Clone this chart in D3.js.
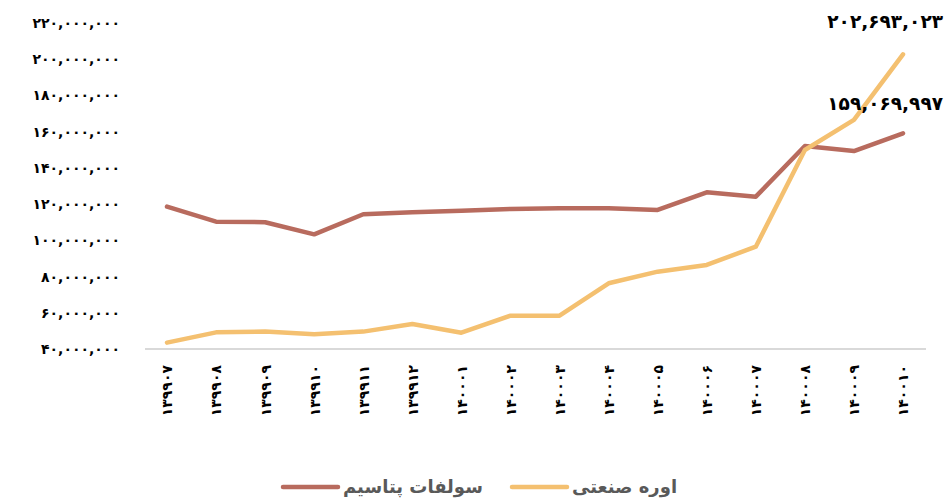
<!DOCTYPE html>
<html>
<head>
<meta charset="utf-8">
<script src="https://cdn.jsdelivr.net/npm/d3@7"></script>
<style>
  body { margin: 0; background: #fff; }
  text { font-family: "DejaVu Sans", sans-serif; }
</style>
</head>
<body>
<script>
// categories (year+month, shown in Persian digits)
var months = ["139907", "139908", "139909", "139910", "139911", "139912",
  "140001", "140002", "140003", "140004", "140005", "140006",
  "140007", "140008", "140009", "140010"];

// series values
var potash = [118600000, 110300000, 110000000, 103300000, 114400000, 115500000,
  116300000, 117300000, 117700000, 117700000, 116800000, 126500000,
  124100000, 152100000, 149300000, 159069997];
var urea = [43500000, 49200000, 49600000, 48100000, 49600000, 53800000,
  49000000, 58400000, 58400000, 76300000, 82700000, 86400000,
  96500000, 149900000, 166500000, 202693023];

var yTicks = [40000000, 60000000, 80000000, 100000000, 120000000, 140000000,
  160000000, 180000000, 200000000, 220000000];

var seriesNames = ["سولفات پتاسیم", "اوره صنعتی"];
var seriesColors = ["#b86b5e", "#f4c070"];

var W = 949, H = 500;
var svg = d3.select("body").append("svg")
  .attr("width", W)
  .attr("height", H)

var fa = "۰۱۲۳۴۵۶۷۸۹";
function toFa(s) {
  return String(s).replace(/[0-9]/g, function(c) { return fa[+c] });
}
var fmt = d3.format(",");

var x = d3.scalePoint().domain(months).range([167, 903]);
var y = d3.scaleLinear().domain([40000000, 220000000]).range([349, 23]);

// y axis labels only, no line
var yAxis = svg.append("g")
  .attr("transform", "translate(120,0)")
  .call(d3.axisLeft(y).tickValues(yTicks).tickSize(0).tickPadding(0)
    .tickFormat(function(d) { return toFa(fmt(d)) }))
yAxis.select(".domain").remove();
yAxis.selectAll("text")
  .style("font-family", "DejaVu Sans")
  .style("font-size", "14px")
  .style("font-weight", "bold")
  .attr("fill", "#000")

// x axis line + rotated labels
var xAxis = svg.append("g")
  .attr("transform", "translate(0,349)")
  .call(d3.axisBottom(x).tickSize(0).tickFormat(function(d) { return toFa(d) }))
xAxis.select(".domain")
  .attr("d", "M145,0H926")
  .attr("stroke", "#d9d9d9")
  .attr("stroke-width", 2)
xAxis.selectAll("text")
  .attr("transform", "rotate(-90)")
  .attr("x", -16)
  .attr("y", 0)
  .attr("dy", "0.35em")
  .style("text-anchor", "end")
  .style("font-family", "DejaVu Sans")
  .style("font-size", "14px")
  .style("font-weight", "bold")
  .attr("fill", "#000")

var line = d3.line()
  .x(function(d, i) { return x(months[i]) })
  .y(function(d) { return y(d) })

var allSeries = [potash, urea];
svg.append("g").selectAll("path")
  .data(allSeries)
  .enter().append("path")
    .attr("d", line)
    .attr("fill", "none")
    .attr("stroke", function(d, i) { return seriesColors[i] })
    .attr("stroke-width", 4.5)
    .attr("stroke-linejoin", "round")
    .attr("stroke-linecap", "round")

// last-point data labels
var last = months.length - 1;
svg.append("g").selectAll("text")
  .data(allSeries)
  .enter().append("text")
    .attr("x", 943)
    .attr("y", function(d, i) { return y(d[last]) - (i == 1 ? 33 : 30) })
    .attr("dy", "0.35em")
    .style("text-anchor", "end")
    .style("font-size", "18.5px")
    .style("font-weight", "bold")
    .attr("fill", "#000")
    .text(function(d) { return toFa(fmt(d[last])) })

// legend (line sits left of the RTL text)
var legendX = [283, 512];
var leg = svg.append("g").selectAll("g")
  .data(seriesNames)
  .enter().append("g")
    .attr("transform", function(d, i) { return "translate(" + legendX[i] + ",487)" })
leg.append("line")
  .attr("x1", 0).attr("x2", 55)
  .attr("stroke", function(d, i) { return seriesColors[i] })
  .attr("stroke-width", 4.5)
  .attr("stroke-linecap", "round")
leg.append("text")
  .attr("x", 60)
  .attr("dy", "0.35em")
  .style("text-anchor", "start")
  .style("font-size", "18px")
  .style("font-weight", "bold")
  .attr("fill", "#595959")
  .text(function(d) { return d })
</script>
</body>
</html>
